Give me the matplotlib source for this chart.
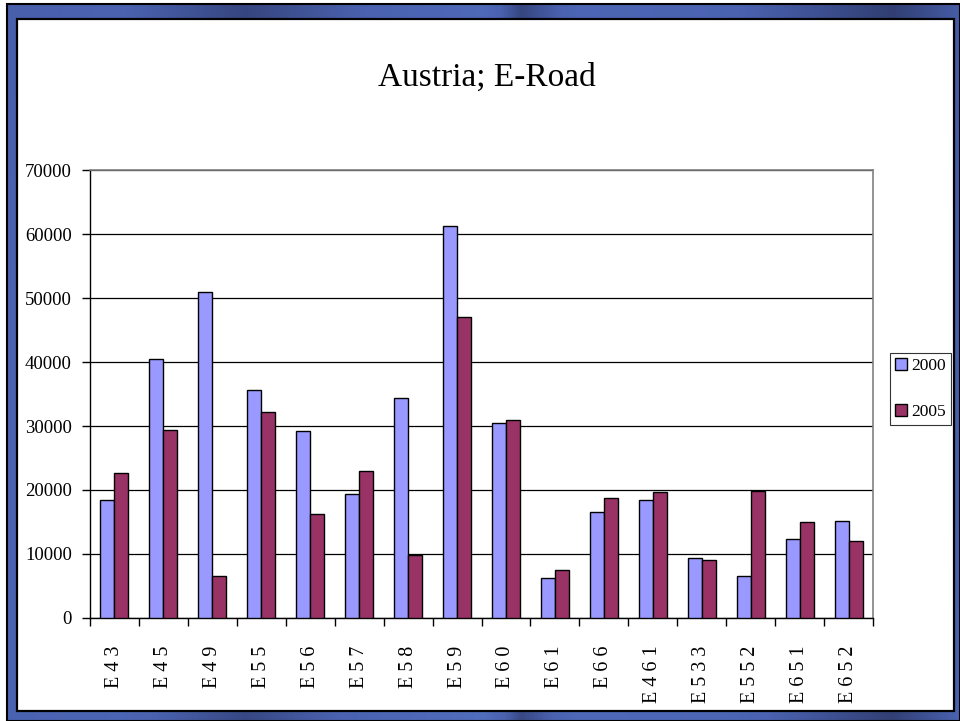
import numpy as np
import matplotlib
matplotlib.use("Agg")
import matplotlib.pyplot as plt
from matplotlib.colors import LinearSegmentedColormap
from matplotlib.patches import Rectangle

plt.rcParams["font.family"] = ["Liberation Serif", "DejaVu Serif"]

roads = ["E 4 3", "E 4 5", "E 4 9", "E 5 5", "E 5 6", "E 5 7", "E 5 8", "E 5 9",
         "E 6 0", "E 6 1", "E 6 6", "E 4 6 1", "E 5 3 3", "E 5 5 2", "E 6 5 1", "E 6 5 2"]
vals_2000 = [18400, 40400, 50900, 35600, 29200, 19300, 34300, 61200,
             30400, 6300, 16600, 18400, 9300, 6600, 12300, 15100]
vals_2005 = [22600, 29300, 6600, 32200, 16300, 22900, 9900, 47000,
             31000, 7500, 18700, 19700, 9000, 19900, 15000, 12000]
series_names = ["2000", "2005"]

W, H = 960, 721
fig = plt.figure(figsize=(W / 100, H / 100), dpi=100)
fig.patch.set_facecolor("white")

# slide frame: blue gradient band with a white panel inside
bg = fig.add_axes([0, 0, 1, 1], zorder=0)
bg.set_xlim(0, W)
bg.set_ylim(H, 0)
bg.axis("off")
cmap = LinearSegmentedColormap.from_list("frame", ["#2b3766", "#4a62b0", "#5270c0"])
xs = np.linspace(0, 1, 400)
shade = np.interp(xs, [0, 0.12, 0.25, 0.38, 0.5, 0.54, 0.6, 0.75, 0.85, 0.93, 1.0],
                  [0.55, 0.6, 0.2, 0.6, 0.9, 0.2, 0.75, 0.65, 0.35, 0.1, 0.5])
ys = np.linspace(0, 1, 300)
img = shade[None, :] * (0.85 + 0.15 * ys[:, None])
bg.imshow(img, cmap=cmap, vmin=0, vmax=1, extent=(7, W, H, 4), aspect="auto")
bg.add_patch(Rectangle((7, 4), W - 7, H - 4, fill=False, edgecolor="black", lw=1.5))
bg.add_patch(Rectangle((16.5, 18.5), 937, 692.5, facecolor="white", edgecolor="black", lw=1.6))

fig.text(487 / W, 1 - 78 / H, "Austria; E-Road", ha="center", va="center", fontsize=24)

ax = fig.add_axes([90 / W, 103 / H, 783 / W, 448 / H], zorder=2)
x = np.arange(len(roads))
w = 0.286
ax.bar(x - w / 2, vals_2000, w, color="#9999FF", edgecolor="black", lw=1.0,
       label=series_names[0], zorder=3)
ax.bar(x + w / 2, vals_2005, w, color="#993366", edgecolor="black", lw=1.0,
       label=series_names[1], zorder=3)

ax.set_xlim(-0.5, len(roads) - 0.5)
ax.set_ylim(0, 70000)
ax.set_yticks(np.arange(0, 70001, 10000))
ax.tick_params(axis="y", direction="out", length=6, width=1, pad=7, labelsize=13.5)
ax.set_xticks(x)
ax.set_xticklabels(roads, rotation=90, fontsize=14.5)
ax.tick_params(axis="x", which="major", length=0, pad=20)
ax.set_xticks(np.arange(-0.5, len(roads), 1), minor=True)
ax.tick_params(axis="x", which="minor", direction="out", length=6, width=1)
ax.yaxis.grid(True, color="black", lw=0.9)
ax.set_axisbelow(True)
for side in ("top", "right"):
    ax.spines[side].set_color("#808080")
    ax.spines[side].set_linewidth(1.2)
for side in ("left", "bottom"):
    ax.spines[side].set_color("black")
    ax.spines[side].set_linewidth(1.0)

leg = ax.legend(loc="upper left", bbox_to_anchor=(890 / W, 1 - 353 / H),
                bbox_transform=fig.transFigure, borderaxespad=0, fancybox=False,
                edgecolor="black", fontsize=12.5, handlelength=0.7, handleheight=0.7,
                handletextpad=0.2, labelspacing=1.7, borderpad=0.3)
leg.get_frame().set_linewidth(0.8)

fig.savefig("out.png", dpi=100)
